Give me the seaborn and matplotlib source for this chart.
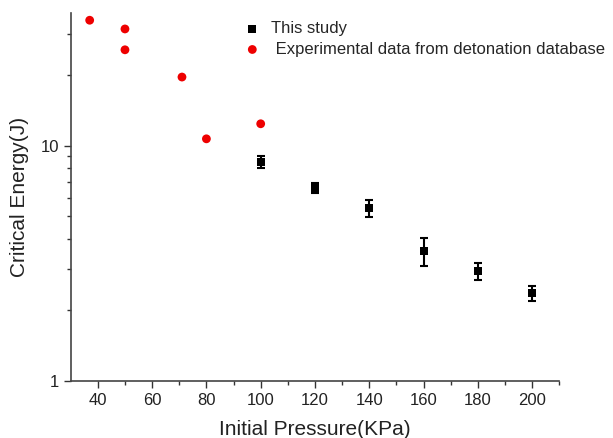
import matplotlib
matplotlib.use("Agg")
import matplotlib.pyplot as plt
import seaborn as sns
import pandas as pd
from matplotlib.ticker import LogLocator, FixedLocator, NullFormatter, FixedFormatter

# Data
study_pressure = [100, 120, 140, 160, 180, 200]
study_energy = [8.53, 6.61, 5.43, 3.56, 2.93, 2.36]
study_err = [0.53, 0.33, 0.46, 0.48, 0.25, 0.18]

db_pressure = [37, 50, 50, 71, 80, 100]
db_energy = [34.2, 31.4, 25.6, 19.6, 10.7, 12.4]

x_ticks = [40, 60, 80, 100, 120, 140, 160, 180, 200]
x_minor = [50, 70, 90, 110, 130, 150, 170, 190, 210]

sns.set_style("ticks")
plt.rcParams['font.family'] = ['Liberation Sans', 'DejaVu Sans']

fig = plt.figure(figsize=(6.13, 4.38), dpi=100)
ax = fig.add_axes([0.1153, 0.1308, 0.7971, 0.8388])

df_study = pd.DataFrame({"p": study_pressure, "e": study_energy})
df_db = pd.DataFrame({"p": db_pressure, "e": db_energy})

ax.errorbar(study_pressure, study_energy, yerr=study_err, fmt="none",
            ecolor="black", elinewidth=1.5, capsize=3, capthick=1.5, zorder=2)
sns.scatterplot(data=df_study, x="p", y="e", marker="s", color="black", s=30,
                edgecolor="black", linewidth=0, ax=ax, label="This study", zorder=3)
sns.scatterplot(data=df_db, x="p", y="e", marker="o", color="#ee0000", s=40,
                edgecolor="none", linewidth=0, ax=ax,
                label=" Experimental data from detonation database", zorder=3)

ax.set_yscale("log")
ax.set_xlim(30, 210)
ax.set_ylim(1, 36.6)
ax.xaxis.set_major_locator(FixedLocator(x_ticks))
ax.xaxis.set_minor_locator(FixedLocator(x_minor))
ax.yaxis.set_major_locator(FixedLocator([1, 10]))
ax.yaxis.set_major_formatter(FixedFormatter(["1", "10"]))
ax.yaxis.set_minor_locator(LogLocator(base=10, subs=range(2, 10)))
ax.yaxis.set_minor_formatter(NullFormatter())

ax.tick_params(axis="both", which="major", direction="out", length=5, width=1,
               labelsize=12, colors="#333333", labelcolor="#222222")
ax.tick_params(axis="both", which="minor", direction="out", length=3, width=1,
               colors="#333333")
for s in ["left", "bottom"]:
    ax.spines[s].set_linewidth(1.2)
    ax.spines[s].set_color("#444444")
sns.despine(ax=ax)

ax.set_xlabel("Initial Pressure(KPa)", fontsize=15, color="#222222", labelpad=9)
ax.set_ylabel("Critical Energy(J)", fontsize=15, color="#222222", labelpad=8)

leg = ax.legend(loc="upper left", bbox_to_anchor=(0.398, 0.952),
                bbox_transform=fig.transFigure, frameon=False,
                fontsize=12, handletextpad=0.6, labelspacing=0.35,
                handlelength=1.0, borderpad=0, borderaxespad=0)

fig.savefig("out.png", dpi=100)
